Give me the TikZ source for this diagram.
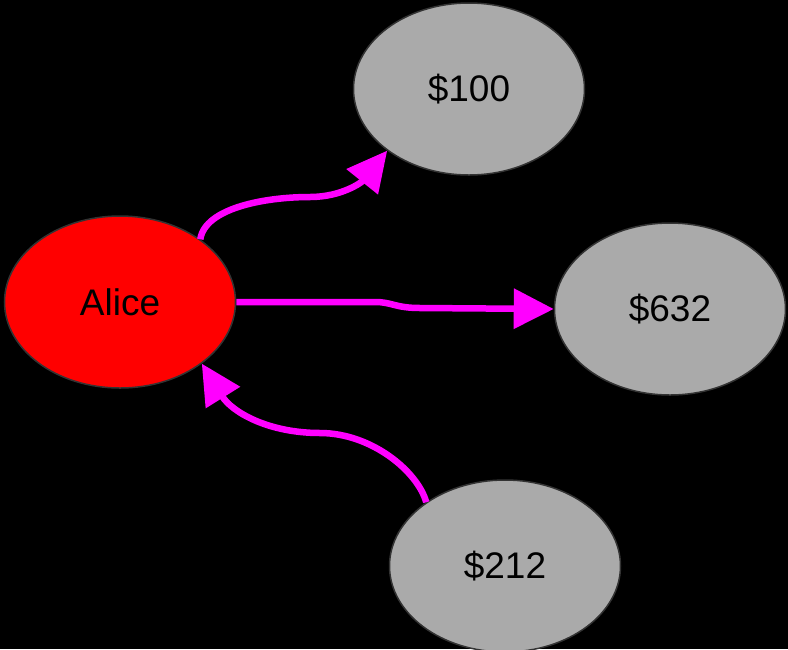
\documentclass[tikz,border=0pt]{standalone}
\usepackage{fontspec}
\setmainfont{Liberation Sans}
\usetikzlibrary{shapes.geometric,arrows.meta}
\definecolor{nodegray}{HTML}{AAAAAA}
\definecolor{bordergray}{HTML}{333333}
\definecolor{edgemag}{HTML}{FF00FF}
\begin{document}
\begin{tikzpicture}[x=1pt,y=-1pt,
  ell/.style={ellipse,draw=bordergray,line width=1.5pt,minimum width=231pt,minimum height=172pt,inner sep=0pt,font=\fontsize{37}{42}\selectfont,text=black},
  amount/.style={ell,fill=nodegray},
  person/.style={ell,fill=red},
  link/.style={draw=edgemag,line width=6.5pt,-{Triangle[length=40pt,width=39pt]}}]
\fill[black] (0,0) rectangle (788,649);
\useasboundingbox (0,0) rectangle (788,649);
\node[person] (alice) at (120,302) {Alice};
\node[amount] (n100) at (469,89) {\$100};
\node[amount] (n632) at (670,309) {\$632};
\node[amount] (n212) at (505,566) {\$212};
\draw[link] (alice.38) .. controls (205,208) and (265,197) .. (310,197) .. controls (342,197) and (362,182) .. (n100.217);
\draw[link] (alice.east) -- (375,302) .. controls (392,302) and (395,308) .. (420,308) -- (n632.west);
\draw[link] (n212.141) .. controls (418,472) and (372,433) .. (320,433) .. controls (268,433) and (232,412) .. (alice.323);
\end{tikzpicture}
\end{document}
